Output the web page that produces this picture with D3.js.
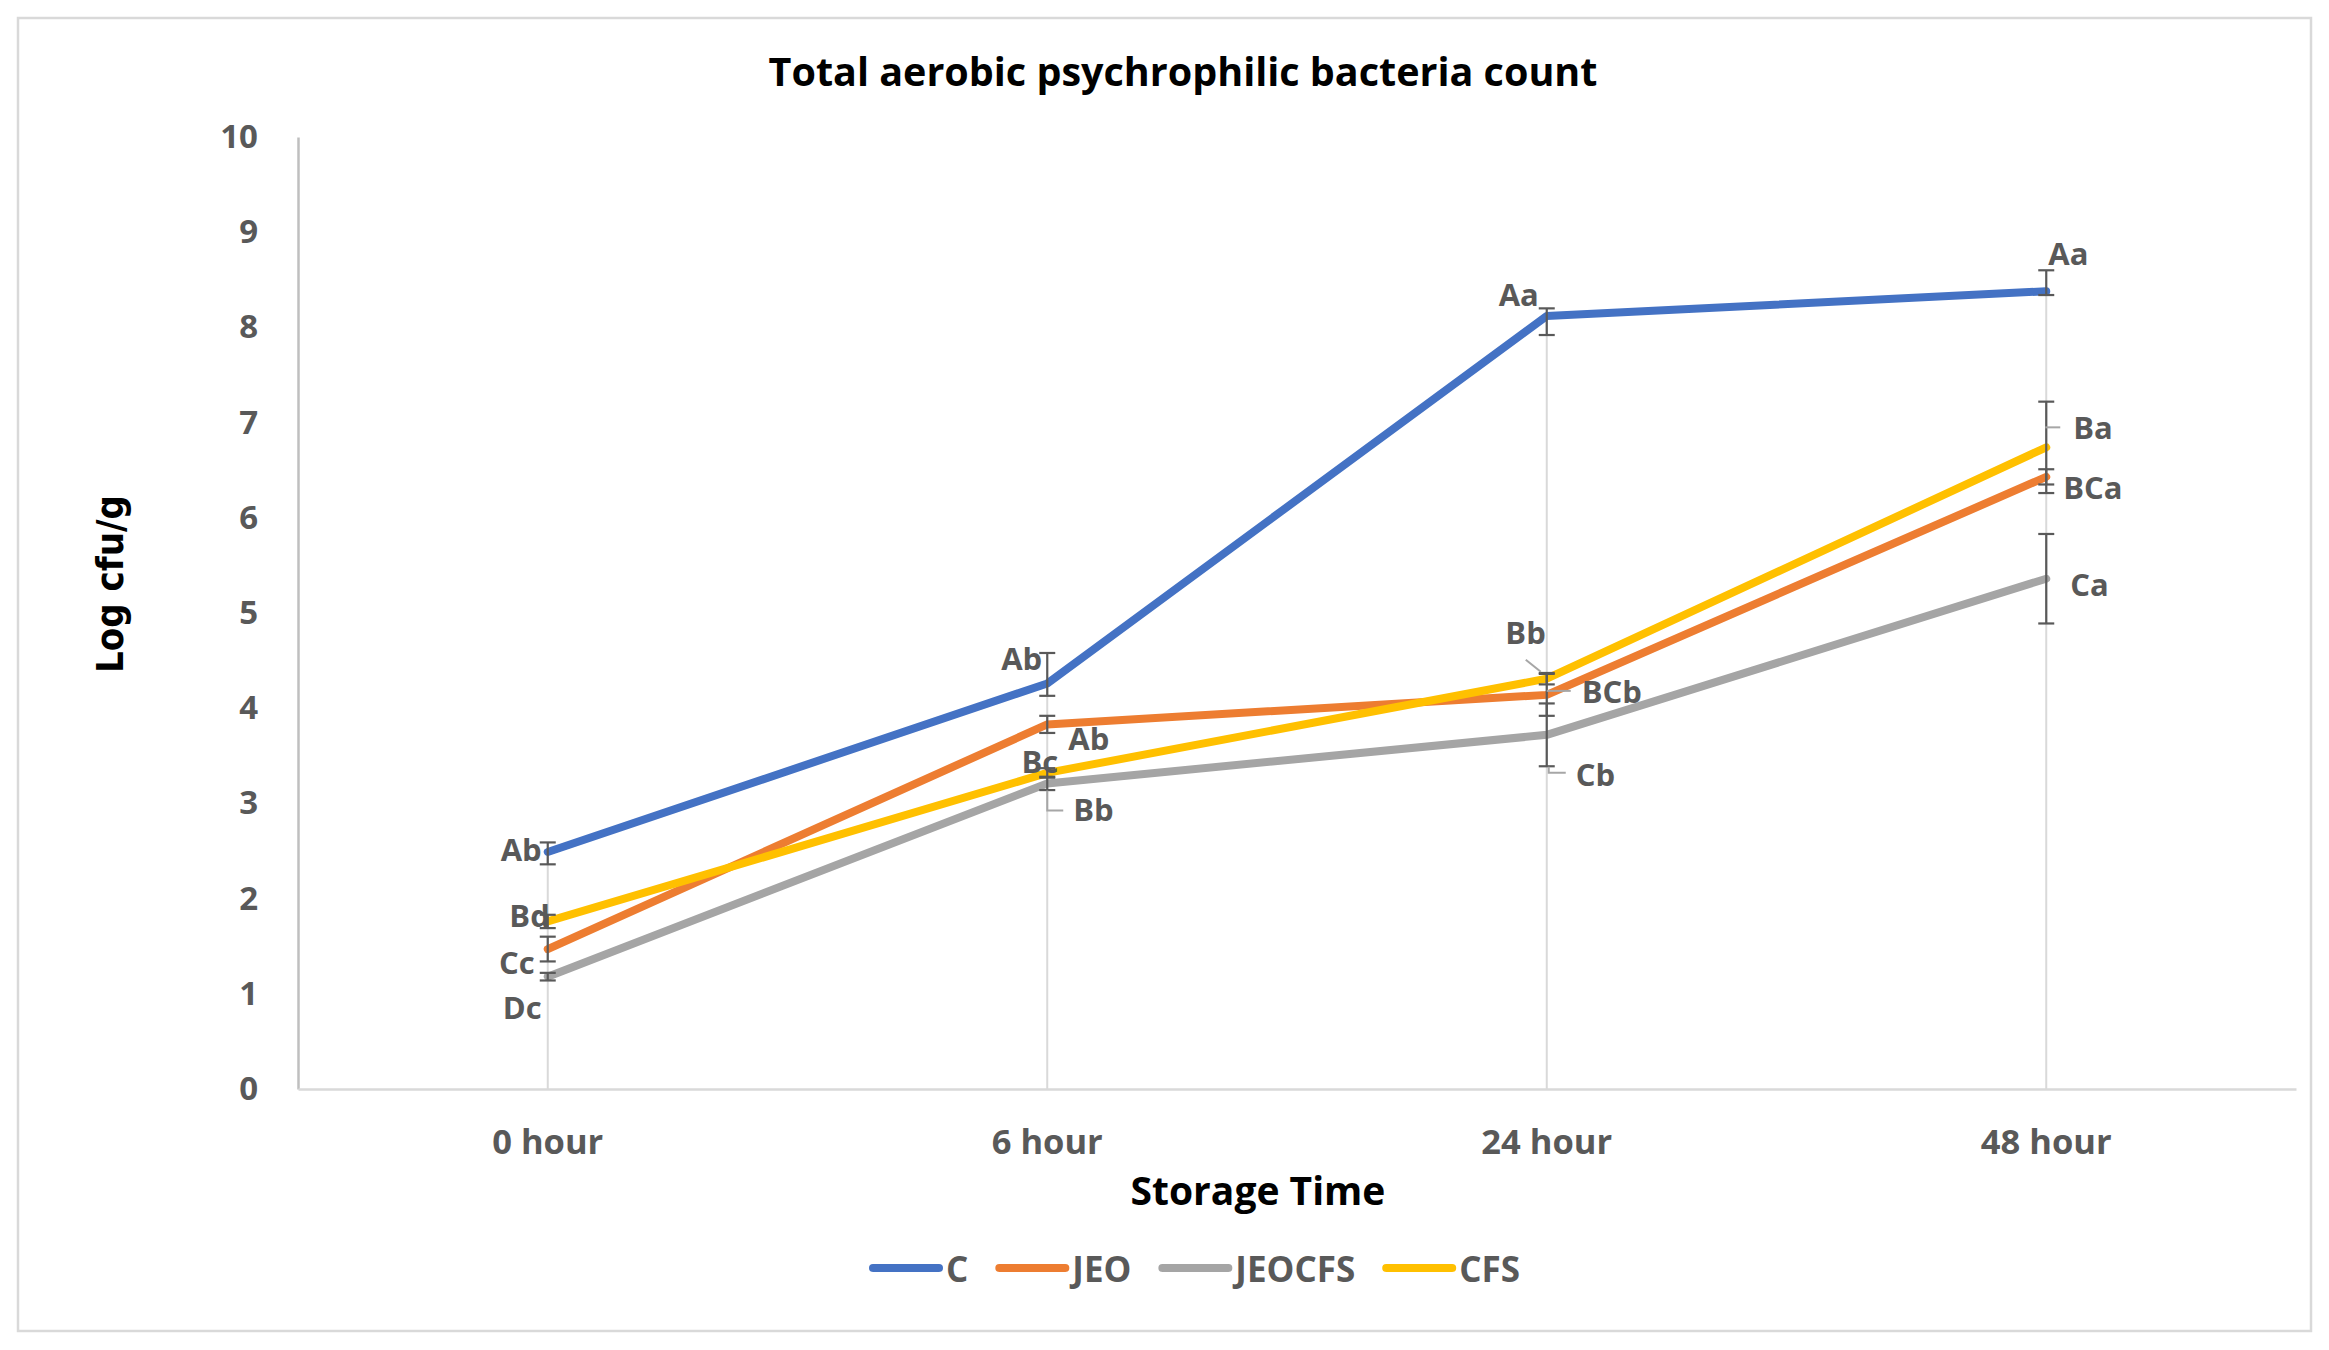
<!DOCTYPE html>
<html><head><meta charset="utf-8">
<script src="https://cdn.jsdelivr.net/npm/d3@7"></script>
<style>html,body{margin:0;padding:0;background:#fff;} svg{display:block}</style>
</head><body><svg id="chart" width="2329" height="1350"></svg>
<script>
// ---------- DATA ----------
const categories = ["0 hour", "6 hour", "24 hour", "48 hour"];
const seriesNames = ["C", "JEO", "JEOCFS", "CFS"];
const valuesC      = [2.49, 4.26, 8.12, 8.38];
const valuesJEO    = [1.47, 3.83, 4.14, 6.43];
const valuesJEOCFS = [1.18, 3.21, 3.72, 5.36];
const valuesCFS    = [1.76, 3.32, 4.31, 6.74];
const errPlusC      = [0.10, 0.32, 0.08, 0.22];
const errMinusC     = [0.13, 0.13, 0.20, 0.04];
const errJEO        = [0.13, 0.09, 0.22, 0.08];
const errJEOCFS     = [0.04, 0.07, 0.33, 0.47];
const errCFS        = [0.07, 0.05, 0.06, 0.48];
const labelsC      = ["Ab", "Ab", "Aa", "Aa"];
const labelsJEO    = ["Cc", "Ab", "BCb", "BCa"];
const labelsJEOCFS = ["Dc", "Bb", "Cb", "Ca"];
const labelsCFS    = ["Bd", "Bc", "Bb", "Ba"];
const yTicks = [0,1,2,3,4,5,6,7,8,9,10];
const titleText = "Total aerobic psychrophilic bacteria count";
const xTitle = "Storage Time";
const yTitle = "Log cfu/g";

// ---------- STYLE / LAYOUT ----------
const colors = {C:"#4472C4", JEO:"#ED7D31", JEOCFS:"#A5A5A5", CFS:"#FFC000"};
const series = [
  {name:"C", values:valuesC, up:errPlusC, down:errMinusC, labels:labelsC},
  {name:"JEO", values:valuesJEO, up:errJEO, down:errJEO, labels:labelsJEO},
  {name:"JEOCFS", values:valuesJEOCFS, up:errJEOCFS, down:errJEOCFS, labels:labelsJEOCFS},
  {name:"CFS", values:valuesCFS, up:errCFS, down:errCFS, labels:labelsCFS}
];
// label offsets relative to the data point: [dx, dy, anchor]
const labelPos = {
  C:      [[-6,-3,"end"],[-5,-25,"end"],[-8,-22,"end"],[2,-38,"start"]],
  JEO:    [[-13,13,"end"],[21,14,"start"],[35,-4,"start"],[17,10,"start"]],
  JEOCFS: [[-6,30,"end"],[26,26,"start"],[29,39,"start"],[24,5,"start"]],
  CFS:    [[2,-6,"end"],[11,-12,"end"],[-1,-47,"end"],[27,-20,"start"]]
};
// leader lines relative to point (series, category index, polyline points)
const leaders = [
  {s:"JEOCFS", i:1, pts:[[16,27],[0,27],[0,7]]},
  {s:"CFS", i:2, pts:[[-21,-19],[-6,-7]]},
  {s:"JEO", i:2, pts:[[0,-4],[24,-4]]},
  {s:"JEOCFS", i:2, pts:[[2,32],[2,38],[19,38]]},
  {s:"CFS", i:3, pts:[[-1,-20],[14,-20]]}
];

const W = 2329, H = 1350;
const plot = {left:298, right:2296, top:137, bottom:1089};
const svg = d3.select("#chart");
const tickFont = "'Open Sans', 'Noto Sans', sans-serif";

// outer border
svg.append("rect").attr("x",18).attr("y",18).attr("width",2293).attr("height",1313)
  .attr("fill","#fff").attr("stroke","#d9d9d9").attr("stroke-width",2.5);

const x = d3.scaleBand().domain(categories).range([plot.left, plot.right]);
const cx = c => x(c) + x.bandwidth()/2;
const y = d3.scaleLinear().domain([0,10]).range([plot.bottom, plot.top]);

// drop lines (from highest point to the axis)
categories.forEach((c,i) => {
  const maxV = d3.max(series, s => s.values[i]);
  svg.append("line").attr("x1",cx(c)).attr("x2",cx(c))
    .attr("y1",y(maxV)).attr("y2",y(0))
    .attr("stroke","#d9d9d9").attr("stroke-width",2);
});

// axes
const yAxis = svg.append("g").attr("transform",`translate(${plot.left},0)`)
  .call(d3.axisLeft(y).tickValues(yTicks).tickFormat(d3.format("d")).tickSize(0).tickPadding(40));
yAxis.select(".domain").attr("stroke","#bfbfbf").attr("stroke-width",2.5);
yAxis.selectAll("text").attr("font-family",tickFont).attr("font-weight",700)
  .attr("font-size",33).attr("fill","#595959");

const xAxis = svg.append("g").attr("transform",`translate(0,${plot.bottom})`)
  .call(d3.axisBottom(x).tickSize(0).tickSizeOuter(0).tickPadding(41));
xAxis.select(".domain").attr("stroke","#d9d9d9").attr("stroke-width",2.5);
xAxis.selectAll("text").attr("font-family",tickFont).attr("font-weight",700)
  .attr("font-size",34.5).attr("fill","#595959");

// lines
const line = d3.line().x((d,i)=>cx(categories[i])).y(d=>y(d));
series.forEach(s => {
  svg.append("path").datum(s.values).attr("d",line)
    .attr("fill","none").attr("stroke",colors[s.name]).attr("stroke-width",8)
    .attr("stroke-linejoin","round").attr("stroke-linecap","round");
});

// error bars
series.forEach(s => {
  const g = svg.append("g").attr("stroke","#595959").attr("stroke-width",2.2);
  s.values.forEach((v,i) => {
    const px = cx(categories[i]);
    const y1 = y(v + s.up[i]), y2 = y(v - s.down[i]);
    g.append("line").attr("x1",px).attr("x2",px).attr("y1",y1).attr("y2",y2);
    g.append("line").attr("x1",px-8).attr("x2",px+8).attr("y1",y1).attr("y2",y1);
    g.append("line").attr("x1",px-8).attr("x2",px+8).attr("y1",y2).attr("y2",y2);
  });
});

// leader lines
leaders.forEach(l => {
  const s = series.find(d => d.name === l.s);
  const px = cx(categories[l.i]), py = y(s.values[l.i]);
  svg.append("polyline").attr("points", l.pts.map(p => [px+p[0], py+p[1]].join(",")).join(" "))
    .attr("fill","none").attr("stroke","#a6a6a6").attr("stroke-width",2);
});

// data labels
series.forEach(s => {
  s.values.forEach((v,i) => {
    const p = labelPos[s.name][i];
    svg.append("text").attr("x",cx(categories[i]) + p[0]).attr("y",y(v) + p[1])
      .attr("text-anchor",p[2]).attr("dominant-baseline","central")
      .attr("font-family",tickFont).attr("font-weight",700).attr("font-size",31)
      .attr("fill","#595959").text(s.labels[i]);
  });
});

// title
svg.append("text").attr("x",1183).attr("y",86).attr("text-anchor","middle")
  .attr("font-family",tickFont).attr("font-weight",700).attr("font-size",39.5)
  .attr("fill","#000").text(titleText);

// axis titles
svg.append("text").attr("x",1258).attr("y",1205).attr("text-anchor","middle")
  .attr("font-family",tickFont).attr("font-weight",700).attr("font-size",39)
  .attr("fill","#000").text(xTitle);
svg.append("text").attr("transform","translate(123,584) rotate(-90)")
  .attr("text-anchor","middle")
  .attr("font-family","'DejaVu Sans Condensed','DejaVu Sans',sans-serif").attr("font-weight",700)
  .attr("font-size",38).attr("fill","#000").text(yTitle);

// legend
let lx = 873;
const ly = 1268;
series.forEach(s => {
  const g = svg.append("g");
  g.append("line").attr("x1",lx).attr("x2",lx+66).attr("y1",ly).attr("y2",ly)
    .attr("stroke",colors[s.name]).attr("stroke-width",8).attr("stroke-linecap","round");
  const t = g.append("text").attr("x",lx+73).attr("y",ly).attr("dominant-baseline","central")
    .attr("font-family",tickFont).attr("font-weight",700).attr("font-size",35)
    .attr("fill","#595959").text(s.name);
  lx = lx + 73 + t.node().getComputedTextLength() + 31;
});
</script></body></html>
